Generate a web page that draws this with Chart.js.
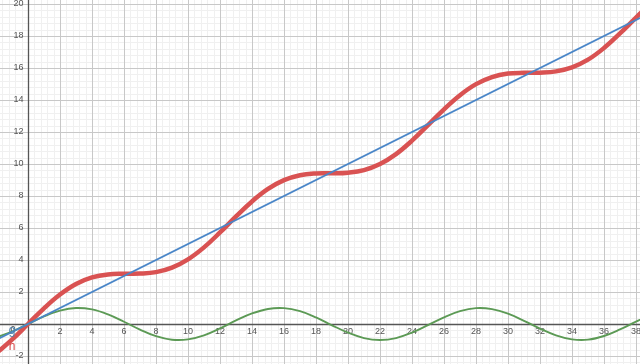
<!DOCTYPE html>
<html>
<head>
<meta charset="utf-8">
<script src="https://cdn.jsdelivr.net/npm/chart.js@4"></script>
<style>
html,body{margin:0;padding:0;background:#fff;}
canvas{display:block;}
</style>
</head>
<body>
<canvas id="c" width="640" height="364"></canvas>
<script>
// x sample positions
const xs = [-2,-1,0,1,2,3,4,5,6,7,8,9,10,11,12,13,14,15,16,17,18,19,20,21,22,23,24,25,26,27,28,29,30,31,32,33,34,35,36,37,38,39];
// red curve h
const hValues = [-1.84,-0.98,0,0.98,1.84,2.50,2.91,3.10,3.14,3.15,3.24,3.52,4.04,4.79,5.72,6.72,7.66,8.44,8.99,9.30,9.41,9.42,9.46,9.62,10.00,10.62,11.46,12.43,13.42,14.30,14.99,15.43,15.65,15.70,15.71,15.79,16.04,16.52,17.25,18.16,19.15,20.11];
// green wave
const waveValues = [-0.84,-0.48,0,0.48,0.84,1.00,0.91,0.60,0.14,-0.35,-0.76,-0.98,-0.96,-0.71,-0.28,0.22,0.66,0.94,0.99,0.80,0.41,-0.08,-0.54,-0.88,-1.00,-0.88,-0.54,-0.07,0.42,0.80,0.99,0.93,0.65,0.20,-0.29,-0.71,-0.96,-0.98,-0.75,-0.34,0.15,0.61];
// blue straight line g
const gX = [-2, 39];
const gValues = [-1, 19.5];
// tick labels
const xTickLabels = [2,4,6,8,10,12,14,16,18,20,22,24,26,28,30,32,34,36,38];
const yTickLabels = [-2,2,4,6,8,10,12,14,16,18,20];

const toPts = (xa, ya) => xa.map((x, i) => ({x: x, y: ya[i]}));

const gridPlugin = {
  id: 'gridPlugin',
  beforeDatasetsDraw(chart) {
    const {ctx, scales: {x, y}, chartArea: a} = chart;
    ctx.save();
    // minor grid
    ctx.lineWidth = 1;
    ctx.strokeStyle = '#f0f0f0';
    for (let i = -4; i <= 96; i++) {
      const p = Math.round(x.getPixelForValue(i * 0.4)) + 0.5;
      ctx.beginPath(); ctx.moveTo(p, a.top); ctx.lineTo(p, a.bottom); ctx.stroke();
    }
    for (let i = -6; i <= 51; i++) {
      const p = Math.round(y.getPixelForValue(i * 0.4)) + 0.5;
      ctx.beginPath(); ctx.moveTo(a.left, p); ctx.lineTo(a.right, p); ctx.stroke();
    }
    // major grid
    ctx.strokeStyle = '#c8c8c8';
    for (let v = -2; v <= 40; v += 2) {
      const p = Math.round(x.getPixelForValue(v)) + 0.5;
      ctx.beginPath(); ctx.moveTo(p, a.top); ctx.lineTo(p, a.bottom); ctx.stroke();
    }
    for (let v = -2; v <= 22; v += 2) {
      const p = Math.round(y.getPixelForValue(v)) + 0.5;
      ctx.beginPath(); ctx.moveTo(a.left, p); ctx.lineTo(a.right, p); ctx.stroke();
    }
    // axes
    ctx.strokeStyle = '#555555';
    ctx.lineWidth = 1.3;
    const x0 = Math.round(x.getPixelForValue(0)) + 0.5;
    const y0 = Math.round(y.getPixelForValue(0)) + 0.5;
    ctx.beginPath(); ctx.moveTo(x0, a.top); ctx.lineTo(x0, a.bottom); ctx.stroke();
    ctx.beginPath(); ctx.moveTo(a.left, y0); ctx.lineTo(a.right, y0); ctx.stroke();
    // tick labels
    ctx.font = '9px "Liberation Sans", Arial, sans-serif';
    ctx.fillStyle = '#555555';
    ctx.textAlign = 'center';
    ctx.textBaseline = 'middle';
    xTickLabels.forEach(v => {
      ctx.fillText(String(v), x.getPixelForValue(v), y0 + 7);
    });
    ctx.textAlign = 'right';
    yTickLabels.forEach(v => {
      ctx.fillText(String(v), x0 - 5, y.getPixelForValue(v));
    });
    ctx.fillText('0', x0 - 13, y0 + 5);
    ctx.restore();
  },
  afterDatasetsDraw(chart) {
    const {ctx, scales: {x, y}} = chart;
    ctx.save();
    ctx.font = '12px "Liberation Sans", Arial, sans-serif';
    ctx.textAlign = 'center';
    ctx.textBaseline = 'middle';
    ctx.fillStyle = '#4f7fa8';
    ctx.fillText('g', x.getPixelForValue(-1), y.getPixelForValue(-0.4));
    ctx.fillStyle = '#d95050';
    ctx.fillText('h', x.getPixelForValue(-1), y.getPixelForValue(-1.4));
    ctx.restore();
  }
};

new Chart(document.getElementById('c'), {
  type: 'scatter',
  data: {
    datasets: [
      {
        label: 'h',
        data: toPts(xs, hValues),
        showLine: true,
        borderColor: '#d95252',
        borderWidth: 4.5,
        pointRadius: 0,
        tension: 0.4,
        order: 3
      },
      {
        label: 'wave',
        data: toPts(xs, waveValues),
        showLine: true,
        borderColor: '#5c9a55',
        borderWidth: 1.9,
        pointRadius: 0,
        tension: 0.4,
        order: 2
      },
      {
        label: 'g',
        data: toPts(gX, gValues),
        showLine: true,
        borderColor: '#4a86c8',
        borderWidth: 1.6,
        pointRadius: 0,
        order: 1
      }
    ]
  },
  options: {
    responsive: false,
    animation: false,
    layout: {padding: 0},
    plugins: {legend: {display: false}, tooltip: {enabled: false}},
    scales: {
      x: {type: 'linear', min: -1.75, max: 38.25, display: false},
      y: {type: 'linear', min: -2.5, max: 20.25, display: false}
    }
  },
  plugins: [gridPlugin]
});
</script>
</body>
</html>
